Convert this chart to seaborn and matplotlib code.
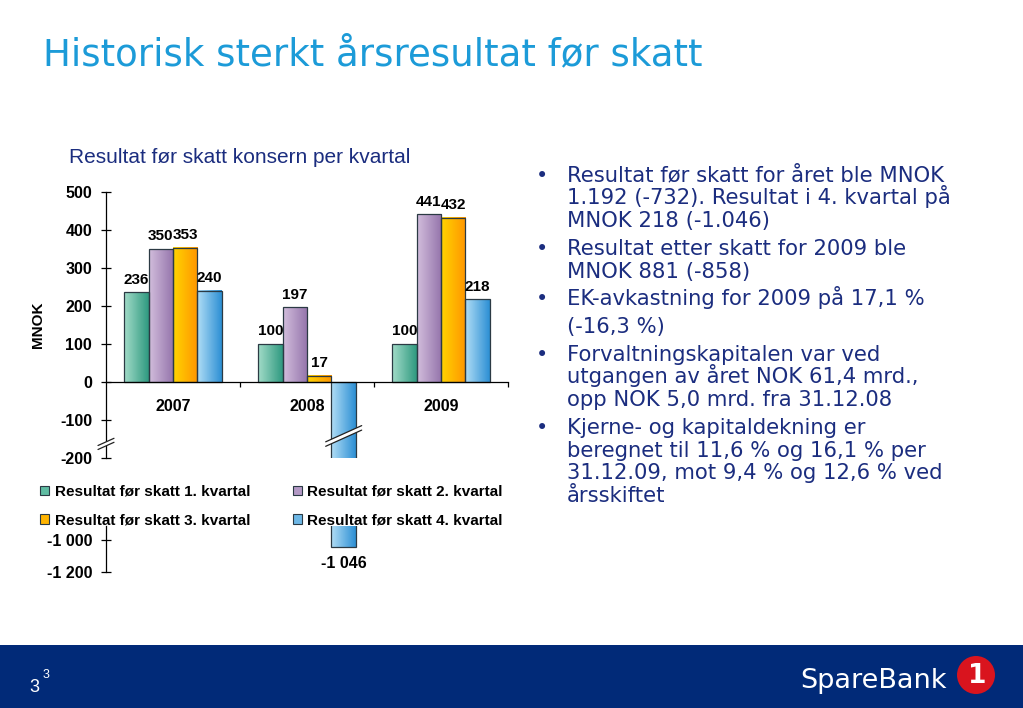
import numpy as np
import pandas as pd
import matplotlib
matplotlib.use("Agg")
import matplotlib.pyplot as plt
import seaborn as sns
from matplotlib.patches import Rectangle, Ellipse, Polygon, Patch
from matplotlib.lines import Line2D
from matplotlib.colors import LinearSegmentedColormap

# ── Data ────────────────────────────────────────────────────────────────
aar = ["2007", "2008", "2009"]
kvartaler = ["Resultat før skatt 1. kvartal", "Resultat før skatt 2. kvartal",
             "Resultat før skatt 3. kvartal", "Resultat før skatt 4. kvartal"]
kv1 = [236, 100, 100]
kv2 = [350, 197, 441]
kv3 = [353, 17, 432]
kv4 = [240, -1046, 218]

ovre_ticks = [-200, -100, 0, 100, 200, 300, 400, 500]
nedre_ticks = [-1200, -1000]
nedre_etiketter = ["-1 200", "-1 000"]

tittel = "Historisk sterkt årsresultat før skatt"
undertittel = "Resultat før skatt konsern per kvartal"
punkter = [
    (True, ["Resultat før skatt for året ble MNOK",
            "1.192 (-732). Resultat i 4. kvartal på",
            "MNOK 218 (-1.046)"]),
    (True, ["Resultat etter skatt for 2009 ble",
            "MNOK 881 (-858)"]),
    (True, ["EK-avkastning for 2009 på 17,1 %"]),
    (False, ["(-16,3 %)"]),
    (True, ["Forvaltningskapitalen var ved",
            "utgangen av året NOK 61,4 mrd.,",
            "opp NOK 5,0 mrd. fra 31.12.08"]),
    (True, ["Kjerne- og kapitaldekning er",
            "beregnet til 11,6 % og 16,1 % per",
            "31.12.09, mot 9,4 % og 12,6 % ved",
            "årsskiftet"]),
]

farger_lys = ["#a3dcc9", "#d2bedc", "#ffd400", "#b2def6"]
farger_mork = ["#2e997f", "#9473ab", "#ff9600", "#2c8fd4"]
farger_mid = ["#5fbca2", "#b399c5", "#ffb400", "#6db7e6"]

rows = []
for navn, verdier in zip(kvartaler, [kv1, kv2, kv3, kv4]):
    for a, v in zip(aar, verdier):
        rows.append({"aar": a, "kvartal": navn, "verdi": v})
df = pd.DataFrame(rows)

sns.set_theme(style="white")
plt.rcParams["font.family"] = ["Liberation Sans", "DejaVu Sans"]
plt.rcParams["axes.edgecolor"] = "black"
plt.rcParams["axes.linewidth"] = 0.9
plt.rcParams["axes.unicode_minus"] = False
plt.rcParams["text.color"] = "black"
plt.rcParams["xtick.color"] = "black"
plt.rcParams["ytick.color"] = "black"
plt.rcParams["axes.labelcolor"] = "black"

W, H = 1023, 708
fig = plt.figure(figsize=(W / 100, H / 100), dpi=100)
fig.patch.set_facecolor("white")


def boks(x0, y0, x1, y1):
    return [x0 / W, 1 - y1 / H, (x1 - x0) / W, (y1 - y0) / H]


ax1 = fig.add_axes(boks(106, 192, 508, 458))
ax2 = fig.add_axes(boks(106, 526, 508, 572))

grad = np.linspace(0, 1, 128).reshape(1, -1)
for ax in (ax1, ax2):
    sns.barplot(data=df, x="aar", y="verdi", hue="kvartal", palette=farger_mid,
                width=0.73, saturation=1, errorbar=None, legend=False,
                edgecolor="#2b3a44", linewidth=0.9, ax=ax)
    # gradient fill (light -> dark) in each bar
    for i, cont in enumerate(ax.containers):
        cmap = LinearSegmentedColormap.from_list(f"g{i}", [farger_lys[i], farger_mork[i]])
        for p in cont.patches:
            x0, y0 = p.get_x(), p.get_y()
            w, h = p.get_width(), p.get_height()
            ax.imshow(grad, extent=[x0, x0 + w, min(y0, y0 + h), max(y0, y0 + h)],
                      cmap=cmap, aspect="auto", interpolation="bilinear",
                      zorder=p.get_zorder() - 0.05)
            p.set_facecolor("none")
    ax.set_xlim(-0.5, 2.5)
    ax.set_xlabel("")
    ax.set_ylabel("")
    ax.spines["top"].set_visible(False)
    ax.spines["right"].set_visible(False)

# ── Upper axes ──────────────────────────────────────────────────────────
ax1.set_ylim(-200, 500)
ax1.set_yticks(ovre_ticks)
ax1.spines["bottom"].set_position(("data", 0))
ax1.tick_params(axis="y", left=True, direction="inout", length=7.2, width=0.9,
                labelsize=11.5, pad=6.3)
ax1.set_xticks([0, 1, 2])
ax1.set_xticklabels(aar)
ax1.tick_params(axis="x", which="major", length=0, labelsize=11.5, pad=12)
ax1.set_xticks([0.5, 1.5, 2.5], minor=True)
ax1.tick_params(axis="x", which="minor", bottom=True, direction="out", length=3.6, width=0.9)
for lab in ax1.get_yticklabels() + ax1.get_xticklabels():
    lab.set_fontweight("bold")
ax1.set_ylabel("MNOK", fontsize=11, fontweight="bold")
ax1.yaxis.set_label_coords(-0.152, 0.5)

for i, cont in enumerate(ax1.containers):
    verdier = [kv1, kv2, kv3, kv4][i]
    ax1.bar_label(cont, labels=[str(v) if v >= 0 else "" for v in verdier],
                  padding=4, fontsize=11, fontweight="bold")

# ── Lower axes ──────────────────────────────────────────────────────────
ax2.set_ylim(-1200, -912)
ax2.set_yticks(nedre_ticks)
ax2.set_yticklabels(nedre_etiketter)
ax2.spines["bottom"].set_visible(False)
ax2.set_xticks([])
ax2.tick_params(axis="y", left=True, direction="inout", length=7.2, width=0.9,
                labelsize=11.5, pad=6.3)
for lab in ax2.get_yticklabels():
    lab.set_fontweight("bold")
ax2.bar_label(ax2.containers[3],
              labels=[f"{v:,}".replace(",", " ") if v < -200 else "" for v in kv4],
              padding=6, fontsize=11.5, fontweight="bold")

# ── Break marks ─────────────────────────────────────────────────────────
inv = fig.transFigure.inverted()


def knekk(cx, cy, bredde, gap=4.5):
    dy = 0.45 * bredde
    x0, x1 = cx - bredde / 2, cx + bredde / 2
    lav = [(x0, cy - dy / 2 - gap / 2), (x1, cy + dy / 2 - gap / 2)]
    hoy = [(x0, cy - dy / 2 + gap / 2), (x1, cy + dy / 2 + gap / 2)]
    fig.add_artist(Polygon(inv.transform(lav + hoy[::-1]), closed=True,
                           facecolor="white", edgecolor="none",
                           transform=fig.transFigure, zorder=10))
    for seg in (lav, hoy):
        s = inv.transform(seg)
        fig.add_artist(Line2D(s[:, 0], s[:, 1], color="#222222", lw=0.9,
                              transform=fig.transFigure, zorder=11))


p = ax1.containers[3].patches[1]
bx, by = ax1.transData.transform((p.get_x() + p.get_width() / 2, -142))
knekk(bx, by, 36)
axx, axy = ax1.transAxes.transform((0, 0.053))
knekk(axx, axy, 16, gap=4)

# ── Legend ──────────────────────────────────────────────────────────────
handles = [Patch(facecolor=farger_mid[i], edgecolor="#2b3a44", linewidth=0.8,
                 label=kvartaler[i]) for i in range(4)]
fig.legend(handles=[handles[0], handles[2], handles[1], handles[3]], ncol=2,
           loc="upper left", bbox_to_anchor=(40 / W, 1 - 485 / H), frameon=False,
           prop={"weight": "bold", "size": 11}, handlelength=0.6, handleheight=0.6,
           handletextpad=0.35, columnspacing=2.8, labelspacing=0.95,
           borderpad=0, borderaxespad=0)

# ── Slide texts ─────────────────────────────────────────────────────────
fig.text(43 / W, 1 - 65 / H, tittel, fontsize=26.7, color="#1c9bd8",
         family="DejaVu Sans", va="baseline", ha="left")
fig.text(69 / W, 1 - 163 / H, undertittel, fontsize=15, color="#1b2d7f",
         va="baseline", ha="left")

y = 181.7
for har_punkt, linjer in punkter:
    if har_punkt:
        fig.text(536 / W, 1 - y / H, "•", fontsize=15, color="#1b2d7f",
                 family="DejaVu Sans", va="baseline", ha="left")
    for linje in linjer:
        fig.text(567 / W, 1 - y / H, linje, fontsize=15.2, color="#1b2d7f",
                 family="DejaVu Sans", va="baseline", ha="left")
        y += 22.8
    y += 4.8

# ── Footer banner ───────────────────────────────────────────────────────
fig.add_artist(Rectangle((0, 0), 1, 63 / H, facecolor="#012a78", edgecolor="none",
                         transform=fig.transFigure, zorder=0))
fig.text(29 / W, 1 - 692 / H, "3", fontsize=13, color="white", va="baseline")
fig.text(43 / W, 1 - 678 / H, "3", fontsize=9, color="white", va="baseline")
fig.text(800 / W, 1 - 688 / H, "SpareBank", fontsize=19.5, color="white",
         family="DejaVu Sans", va="baseline", ha="left")
fig.add_artist(Ellipse((976 / W, 1 - 675 / H), 38 / W, 38 / H, facecolor="#d9141e",
                       edgecolor="none", transform=fig.transFigure, zorder=2))
fig.text(977 / W, 1 - 676 / H, "1", fontsize=19, color="white", fontweight="bold",
         family="DejaVu Sans", va="center", ha="center", zorder=3)

fig.savefig("out.png", dpi=100)
